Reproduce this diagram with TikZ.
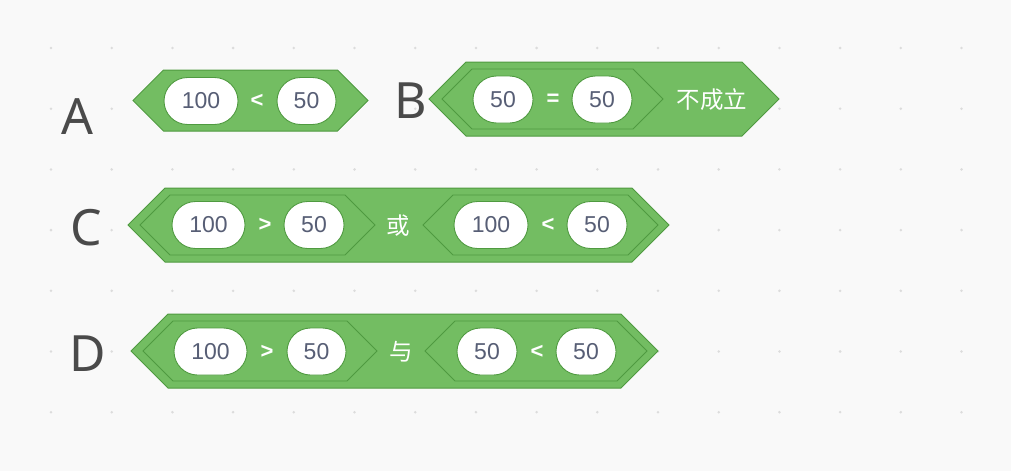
\documentclass[tikz,border=0pt]{standalone}
\usepackage{fontspec}
\setmainfont{Liberation Sans}
\newfontfamily\labfont{Noto Sans}
\newfontfamily\cjk{Noto Sans CJK SC}
\usetikzlibrary{shapes.misc}
\definecolor{bg}{HTML}{F9F9F9}
\definecolor{blk}{HTML}{73BD62}
\definecolor{blkline}{HTML}{4F9A40}
\definecolor{ovaltxt}{HTML}{575E75}
\definecolor{dotc}{HTML}{DCDCDC}
\definecolor{labc}{HTML}{4A4A4A}
\newcommand{\hexblock}[5]{%
  \draw[#1] (#2,-#4) -- (#2+#5,-#4+#5) -- (#3-#5,-#4+#5) -- (#3,-#4)
    -- (#3-#5,-#4-#5) -- (#2+#5,-#4-#5) -- cycle;}
\begin{document}
\begin{tikzpicture}[x=1pt,y=1pt,
  outerhex/.style={fill=blk,draw=blkline,line width=1pt,line join=miter},
  innerhex/.style={fill=blk,draw=blkline,line width=0.9pt,line join=miter},
  oval/.style={rounded rectangle,fill=white,draw=blkline,line width=0.9pt,
    minimum height=47pt,inner sep=0pt,text=ovaltxt,
    font=\fontsize{23}{23}\selectfont},
  op/.style={text=white,inner sep=0pt,font=\bfseries\fontsize{22}{22}\selectfont},
  cjktxt/.style={text=white,inner sep=0pt,font=\cjk\fontsize{23.5}{23.5}\selectfont},
  lab/.style={text=labc,inner sep=0pt,font=\labfont\fontsize{50}{50}\selectfont}]
\fill[bg] (0,0) rectangle (1011,-471);
\useasboundingbox (0,0) rectangle (1011,-471);
% dot grid
\foreach \i in {0,...,15}{
  \foreach \j in {0,...,6}{
    \fill[dotc] (51+60.7*\i,-48-60.7*\j) circle (1.4);
  }}
% labels
\node[lab] (labA) at (77.5,-117) {A};
\node[lab] (labB) at (411,-101) {B};
\node[lab] (labC) at (86,-228) {C};
\node[lab] (labD) at (88,-354) {D};
% ---- A
\hexblock{outerhex}{133}{368}{100.5}{30.5}
\node[oval,minimum width=74pt] (a1) at (201,-101) {100};
\node[op] (aop) at (257,-101) {<};
\node[oval,minimum width=59pt] (a2) at (306.5,-101) {50};
% ---- B
\hexblock{outerhex}{429}{779}{99}{37}
\hexblock{innerhex}{442}{663}{99}{30}
\node[oval,minimum width=60pt] (b1) at (503,-99.5) {50};
\node[op] (bop) at (553,-99.5) {=};
\node[oval,minimum width=60pt] (b2) at (602,-99.5) {50};
\node[cjktxt] (bt) at (712,-100) {不成立};
% ---- C
\hexblock{outerhex}{128}{669}{225}{37}
\hexblock{innerhex}{140}{375}{225}{30}
\hexblock{innerhex}{423}{658}{225}{30}
\node[oval,minimum width=73pt] (c1) at (208.5,-225) {100};
\node[op] (cop1) at (265,-225) {>};
\node[oval,minimum width=60pt] (c2) at (314,-225) {50};
\node[cjktxt] (ct) at (398,-226) {或};
\node[oval,minimum width=74pt] (c3) at (491,-225) {100};
\node[op] (cop2) at (548,-225) {<};
\node[oval,minimum width=60pt] (c4) at (597,-225) {50};
% ---- D
\hexblock{outerhex}{131}{658}{351}{37}
\hexblock{innerhex}{143}{377}{351}{30}
\hexblock{innerhex}{425}{647}{351}{30}
\node[oval,minimum width=73pt] (d1) at (210.5,-351.5) {100};
\node[op] (dop1) at (267,-351.5) {>};
\node[oval,minimum width=59pt] (d2) at (316.5,-351.5) {50};
\node[cjktxt] (dt) at (401,-352) {与};
\node[oval,minimum width=60pt] (d3) at (487,-351.5) {50};
\node[op] (dop2) at (537,-351.5) {<};
\node[oval,minimum width=60pt] (d4) at (586,-351.5) {50};
\end{tikzpicture}
\end{document}
